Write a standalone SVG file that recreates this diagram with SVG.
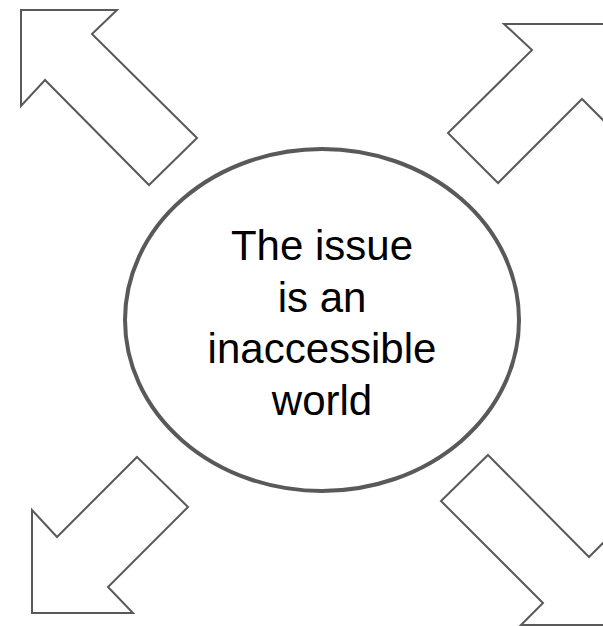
<svg xmlns="http://www.w3.org/2000/svg" width="603" height="626" viewBox="0 0 603 626">
<style>
.arrow{fill:#ffffff;stroke:#595959;stroke-width:2;stroke-linejoin:miter}
.hub{fill:#ffffff;stroke:#595959;stroke-width:4}
.label{font-family:"Liberation Sans",Arial,sans-serif;font-size:42px;fill:#000000;text-anchor:middle}
</style>
<rect x="0" y="0" width="603" height="626" fill="#ffffff"/>
<g id="connectors">
<polygon id="arrow-nw" class="arrow" points="21,10 117,10 92,34 197,138 149,185 45,80 21,106"/>
<polygon id="arrow-ne" class="arrow" points="504,24 612,24 612,129 582,99 498,183 448,133 532,50"/>
<polygon id="arrow-sw" class="arrow" points="137,457 188,507 108,587 133,613 32,613 32,510 57,537"/>
<polygon id="arrow-se" class="arrow" points="488,455 589,557 625,521 625,625 521,625 543,603 441,501"/>
</g>
<g id="node-center">
<ellipse class="hub" cx="322" cy="320" rx="197" ry="171"/>
<text class="label" x="322" y="260">The issue</text>
<text class="label" x="322" y="311.5">is an</text>
<text class="label" x="322" y="363">inaccessible</text>
<text class="label" x="322" y="414.5">world</text>
</g>
</svg>
